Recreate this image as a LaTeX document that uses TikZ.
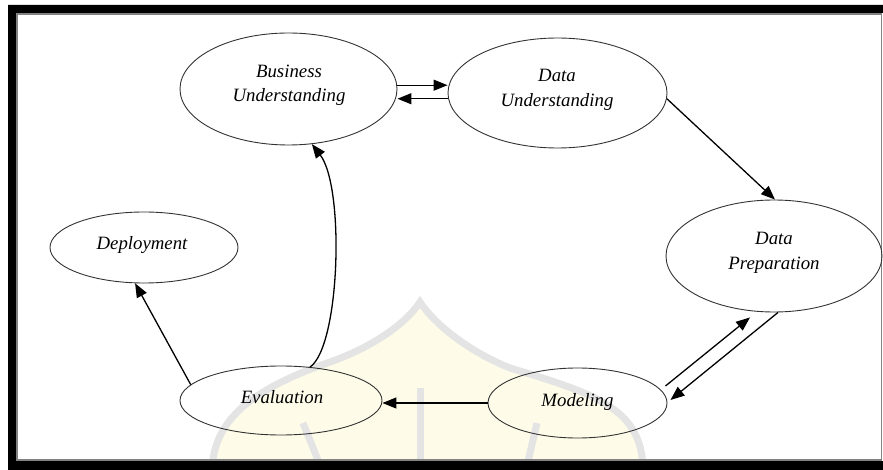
\documentclass[tikz,border=0pt]{standalone}
\usepackage{fontspec}
\setmainfont{Liberation Serif}
\usetikzlibrary{arrows.meta,calc,shapes.geometric}
\definecolor{wmgray}{RGB}{228,228,228}
\definecolor{wmyellow}{RGB}{254,252,232}
\definecolor{framegray}{RGB}{130,130,130}
\begin{document}
\begin{tikzpicture}[x=1pt,y=-1pt,
  ell/.style={shape=ellipse,draw=black!80,line width=0.9pt,inner sep=0pt},
  lbl/.style={font=\fontsize{18.8pt}{24.5pt}\selectfont\itshape,align=center,inner sep=0pt},
  arr/.style={line width=1.3pt,-{Triangle[length=14pt,width=11pt]}},
  wm/.style={draw=wmgray,line width=7pt}
]
\useasboundingbox (0,0) rectangle (883,470);
\fill[white] (0,0) rectangle (883,470);
% faint watermark
\fill[wmyellow] (212,470) .. controls (214,420) and (250,390) .. (330,362) .. controls (370,348) and (405,325) .. (420,302) .. controls (435,325) and (470,352) .. (510,368) .. controls (600,395) and (642,410) .. (643,470) -- cycle;
\draw[wm] (212,470) .. controls (214,420) and (250,390) .. (330,362) .. controls (370,348) and (405,325) .. (420,302) .. controls (435,325) and (470,352) .. (510,368) .. controls (600,395) and (642,410) .. (643,470);
\draw[wm] (420,388) -- (420,470);
\draw[wm] (303,423) -- (322,470);
\draw[wm] (537,423) -- (526,470);
% frame
\fill[black,even odd rule] (8,5) rectangle (883,470) (16,13) rectangle (883,461);
\draw[framegray,line width=1.2pt] (17,14) rectangle (881.5,460);
% ellipses
\node[ell,minimum width=217pt,minimum height=112pt] (bu) at (288.5,89) {};
\node[ell,minimum width=219pt,minimum height=110pt] (du) at (557.5,93) {};
\node[ell,minimum width=216pt,minimum height=112pt] (dp) at (774,256) {};
\node[ell,minimum width=188pt,minimum height=71pt] (de) at (144,247.5) {};
\node[ell,minimum width=202pt,minimum height=69pt] (ev) at (281,400.5) {};
\node[ell,minimum width=179pt,minimum height=70pt] (mo) at (577.5,403) {};
% labels
\node[lbl] (bu-t) at (289,85.5) {Business\\Understanding};
\node[lbl] (du-t) at (557,90) {Data\\Understanding};
\node[lbl] (dp-t) at (774,253) {Data\\Preparation};
\node[lbl] (de-t) at (142,245) {Deployment};
\node[lbl] (ev-t) at (282,397) {Evaluation};
\node[lbl] (mo-t) at (577.5,401.5) {Modeling};
% connectors
\draw[arr] (bu.2) -- (bu.2 -| du.west);
\draw[arr] (du.183) -- (du.183 -| bu.east);
\draw[arr] (du.-3) -- (dp.89);
\draw[arr] ($(dp.south)+(4,0)$) -- ($(mo.east)+(3,-3)$);
\draw[arr] ($(mo.east)+(-2,-17)$) -- ($(dp.south)+(-24,5)$);
\draw[arr] (mo.west) -- (mo.west -| ev.east);
\draw[arr] (ev.170) -- (de.256);
\draw[arr] (ev.49) .. controls +(30,-21) and +(33,43) .. (bu.-67);
\end{tikzpicture}
\end{document}
